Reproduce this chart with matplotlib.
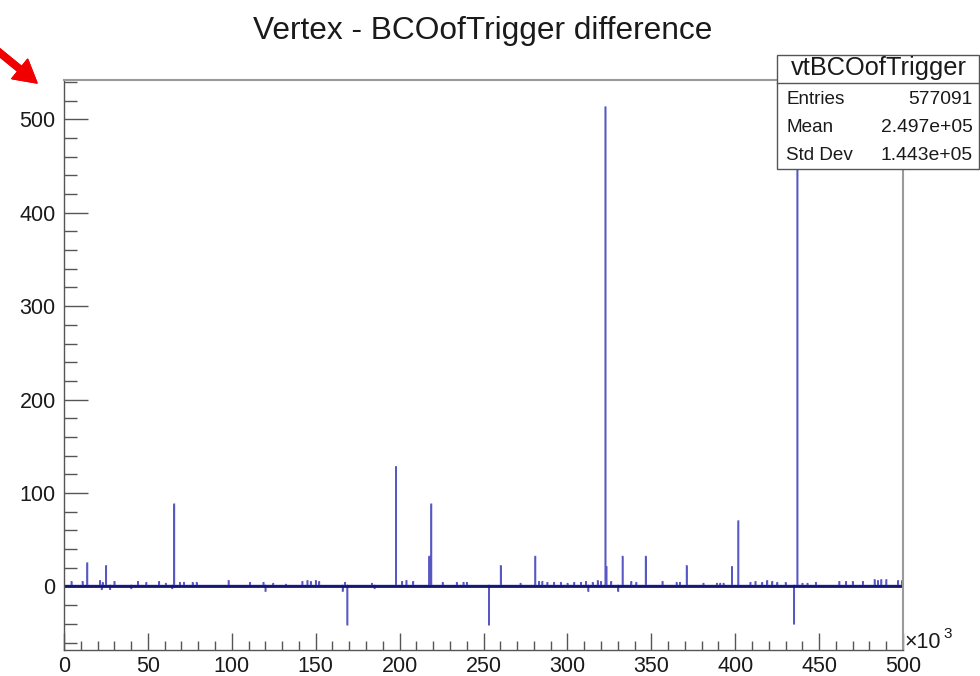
import numpy as np
import matplotlib
matplotlib.use("Agg")
import matplotlib.pyplot as plt
from matplotlib.ticker import MultipleLocator
from matplotlib.patches import Rectangle
from matplotlib.lines import Line2D

plt.rcParams['font.family'] = ['Liberation Sans', 'DejaVu Sans']

# ---------------- data (x in units of 10^3) ----------------
spike_x = [4.6, 11.0, 13.9, 21.5, 22.5, 23.0, 25.0, 27.5, 30.0, 40.0, 44.0, 49.0, 56.6,
           60.8, 64.5, 65.7, 69.0, 71.5, 76.7, 79.0, 98.0, 110.8, 118.8, 120.0,
           124.7, 132.3, 142.0, 145.0, 147.0, 150.0, 152.0, 166.0, 167.5, 168.9,
           183.5, 185.0, 197.9, 201.5, 204.0, 208.0, 217.7, 218.9, 225.7, 234.0,
           238.0, 240.0, 253.3, 260.4, 272.0, 280.9, 283.0, 285.0, 288.0, 292.0,
           296.0, 300.0, 304.0, 308.0, 311.0, 312.5, 315.0, 318.0, 320.0, 322.6,
           323.4, 326.0, 330.3, 332.9, 338.0, 341.0, 346.6, 356.6, 365.0, 367.0,
           371.1, 381.0, 389.0, 391.0, 393.0, 398.1, 401.9, 409.0, 412.0, 416.0,
           419.0, 422.0, 425.0, 430.0, 435.0, 437.0, 440.0, 443.0, 448.0, 462.0,
           466.0, 470.0, 476.0, 483.0, 485.0, 487.0, 490.0, 497.0, 499.5]
spike_h = [5, 5, 25, 6, -3, 4, 22, -3, 5, -2, 5, 4, 5,
           3, -2, 88, 4, 4, 4, 4, 6, 4, 4, -5,
           3, 2, 5, 6, 5, 6, 5, -5, 4, -41,
           3, -2, 128, 5, 6, 5, 32, 88, 4, 4,
           4, 4, -41, 22, 3, 32, 5, 5, 4, 4,
           4, 3, 4, 4, 5, -5, 4, 6, 5, 513,
           21, 5, -5, 32, 5, 4, 32, 5, 4, 4,
           22, 3, 3, 3, 3, 21, 70, 4, 5, 4,
           6, 5, 4, 4, -40, 480, 3, 3, 4, 5,
           5, 5, 5, 7, 6, 7, 7, 6, 6]
baseline_level = 1.0

x_range = (0, 500)
y_range = (-68, 542)

title = "Vertex - BCOofTrigger difference"
stats_name = "vtBCOofTrigger"
stats_rows = [("Entries", "577091"), ("Mean", "2.497e+05"), ("Std Dev", "1.443e+05")]

# ---------------- histogram array ----------------
bin_w = 0.2
edges = np.arange(x_range[0], x_range[1] + bin_w / 2, bin_w)
values = np.full(len(edges) - 1, baseline_level)
for xv, hv in zip(spike_x, spike_h):
    i = min(int(xv / bin_w), len(values) - 1)
    values[i] = hv

W, H = 980, 676
fig = plt.figure(figsize=(W / 100, H / 100), dpi=100)
ax = fig.add_axes([64 / W, 1 - 650 / H, (903 - 64) / W, (650 - 80) / H])

ax.stairs(values, edges, color='#5858c4', lw=1.1, baseline=None)
ax.plot([x_range[0], x_range[1]], [baseline_level, baseline_level],
        color='#15156e', lw=2.0, solid_capstyle='butt')

ax.set_xlim(*x_range)
ax.set_ylim(*y_range)

ax.xaxis.set_major_locator(MultipleLocator(50))
ax.xaxis.set_minor_locator(MultipleLocator(10))
ax.yaxis.set_major_locator(MultipleLocator(100))
ax.yaxis.set_minor_locator(MultipleLocator(20))

ax.tick_params(axis='y', which='major', direction='in', length=17.5, width=1.0,
               color='#555555', labelsize=15.5, pad=6, labelcolor='#1a1a1a')
ax.tick_params(axis='y', which='minor', direction='in', length=9.5, width=1.0, color='#555555')
ax.tick_params(axis='x', which='major', direction='in', length=12, width=1.0,
               color='#555555', labelsize=15.5, pad=4, labelcolor='#1a1a1a')
ax.tick_params(axis='x', which='minor', direction='in', length=6.5, width=1.0, color='#555555')

for s in ['left', 'bottom']:
    ax.spines[s].set_color('#555555')
    ax.spines[s].set_linewidth(1.0)
for s in ['top', 'right']:
    ax.spines[s].set_color('#9a9a9a')
    ax.spines[s].set_linewidth(1.5)

# title
fig.text(483 / W, 1 - 31 / H, title, ha='center', va='center', fontsize=22.8, color='#1a1a1a')

# x10^3
fig.text(905 / W, 1 - 642 / H, "×10", ha='left', va='center', fontsize=15.5, color='#1a1a1a')
fig.text(943 / W, 1 - 634 / H, "3", ha='left', va='center', fontsize=11, color='#1a1a1a')

# stats box
bx0, bx1, by0, by1, bsep = 777, 979, 55, 169, 83
fig.patches.append(Rectangle((bx0 / W, 1 - by1 / H), (bx1 - bx0) / W, (by1 - by0) / H,
                             transform=fig.transFigure, facecolor='white',
                             edgecolor='#555555', lw=1.0, zorder=5))
fig.lines.append(Line2D([bx0 / W, bx1 / W], [1 - bsep / H, 1 - bsep / H],
                        transform=fig.transFigure, color='#555555', lw=1.0, zorder=6))
fig.text((bx0 + bx1) / 2 / W + 1 / W, 1 - 68 / H, stats_name, ha='center', va='center',
         fontsize=18.3, color='#1a1a1a', zorder=7)
row_y = [100, 128, 156]
for (lab, val), ry in zip(stats_rows, row_y):
    fig.text(786 / W, 1 - ry / H, lab, ha='left', va='center', fontsize=13.6,
             color='#1a1a1a', zorder=7)
    fig.text(973 / W, 1 - ry / H, val, ha='right', va='center', fontsize=13.9,
             color='#1a1a1a', zorder=7)

# red arrow
fig.add_artist(plt.annotate("", xy=(37, H - 83), xycoords='figure pixels',
                            xytext=(-6, H - 48), textcoords='figure pixels',
                            arrowprops=dict(width=4.5, headwidth=18, headlength=16,
                                            color='#f00000', shrink=0)))

fig.savefig("out.png", dpi=100)
